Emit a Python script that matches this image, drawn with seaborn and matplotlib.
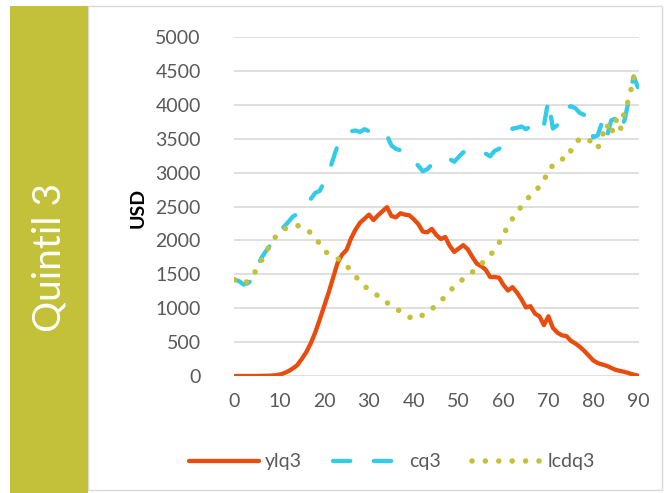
import numpy as np
import pandas as pd
import matplotlib
matplotlib.use("Agg")
import matplotlib.pyplot as plt
from matplotlib.patches import Rectangle
import seaborn as sns

# ages 0..90
ages = list(range(0, 91))

ylq3 = [0, 0, 0, 0, 0, 0, 2, 3, 5, 10,
        20, 40, 70, 110, 160, 250, 350, 480, 640, 830,
        1030, 1230, 1450, 1670, 1790, 1860, 2030, 2160, 2260, 2320,
        2380, 2300, 2370, 2430, 2490, 2360, 2340, 2400, 2380, 2370,
        2310, 2240, 2130, 2120, 2170, 2080, 2020, 2050, 1920, 1830,
        1880, 1930, 1870, 1760, 1660, 1620, 1570, 1460, 1460, 1450,
        1340, 1260, 1310, 1230, 1130, 1010, 1030, 920, 880, 750,
        880, 710, 640, 600, 590, 520, 480, 430, 370, 300,
        230, 190, 170, 150, 120, 90, 75, 60, 40, 20, 5]

cq3 = [1420, 1400, 1350, 1370, 1420, 1600, 1740, 1840, 1930, 2020,
       2120, 2200, 2270, 2350, 2390, 2410, 2500, 2610, 2700, 2730,
       2860, 3000, 3200, 3400, 3470, 3550, 3610, 3620, 3600, 3640,
       3610, 3600, 3620, 3590, 3550, 3400, 3350, 3330, 3280, 3230,
       3170, 3100, 3020, 3050, 3120, 3150, 3180, 3220, 3200, 3160,
       3230, 3300, 3290, 3270, 3260, 3300, 3280, 3240, 3320, 3350,
       3420, 3530, 3650, 3660, 3680, 3640, 3680, 3590, 3660, 3700,
       4070, 3650, 3700, 3880, 3950, 3980, 3950, 3880, 3850, 3780,
       3520, 3550, 3750, 3520, 3770, 3800, 3620, 3780, 4100, 4420, 4250]

lcdq3 = [1420, 1390, 1360, 1400, 1470, 1580, 1700, 1820, 1940, 2040,
         2110, 2160, 2200, 2220, 2220, 2200, 2170, 2110, 2040, 1950,
         1850, 1800, 1770, 1730, 1700, 1630, 1550, 1470, 1390, 1320,
         1280, 1240, 1180, 1110, 1080, 1050, 1000, 950, 910, 870,
         840, 860, 900, 950, 990, 1040, 1100, 1180, 1250, 1320,
         1380, 1430, 1480, 1530, 1590, 1650, 1710, 1780, 1860, 1960,
         2100, 2200, 2320, 2420, 2500, 2580, 2670, 2730, 2790, 2870,
         3060, 3100, 3120, 3180, 3320, 3320, 3450, 3490, 3510, 3500,
         3380, 3360, 3540, 3720, 3560, 3790, 3620, 3920, 4090, 4410, 4230]

series_names = ["ylq3", "cq3", "lcdq3"]
colors = {"ylq3": "#E84C0E", "cq3": "#33CBE8", "lcdq3": "#C3C13A"}
dashes = {"ylq3": "", "cq3": (4, 5.5), "lcdq3": (0.01, 2.4)}

df = pd.DataFrame({"age": ages, "ylq3": ylq3, "cq3": cq3, "lcdq3": lcdq3})
long_df = df.melt(id_vars="age", var_name="serie", value_name="usd")

sns.set_style("white")
plt.rcParams["font.family"] = ["Lato", "DejaVu Sans"]

fig = plt.figure(figsize=(6.72, 4.93), dpi=100)
ax = fig.add_axes([234 / 672, 1 - 376 / 493, (639 - 234) / 672, (376 - 37) / 493])

sns.lineplot(data=long_df, x="age", y="usd", hue="serie", style="serie",
             hue_order=series_names, style_order=series_names,
             palette=colors, dashes=dashes, linewidth=3.1, ax=ax)

lines = ax.get_lines()
for line in lines:
    line.set_dash_capstyle("round")
    line.set_solid_capstyle("round")
    line.set_solid_joinstyle("round")
lines[2].set_linewidth(4.0)

ax.set_xlim(-0.1, 90.2)
ax.set_ylim(0, 5000)
ax.set_xticks(range(0, 91, 10))
ax.set_yticks(range(0, 5001, 500))
ax.yaxis.grid(True, color="#D9D9D9", linewidth=1.2)
ax.set_axisbelow(True)
for s in ax.spines.values():
    s.set_visible(False)
ax.tick_params(axis="both", length=0, labelsize=14, labelcolor="#595959")
ax.tick_params(axis="x", pad=12)
ax.tick_params(axis="y", pad=24)
ax.set_xlabel("")
ax.set_ylabel("")

leg = ax.get_legend()
handles, labels = ax.get_legend_handles_labels()
leg.remove()
lg = fig.legend(handles, labels, loc="center", bbox_to_anchor=(392 / 672, 1 - 462 / 493),
                ncol=3, frameon=False, fontsize=14, handlelength=3.6,
                columnspacing=1.6, handletextpad=0.3)
for t in lg.get_texts():
    t.set_color("#595959")
for h in lg.get_lines():
    h.set_dash_capstyle("round")
    h.set_solid_capstyle("round")
lg.get_lines()[2].set_linewidth(4.0)

# y axis title
fig.text(138 / 672, 1 - 208 / 493, "USD", rotation=90, ha="center", va="center",
         fontsize=14, fontweight="bold", color="black")

# chart frame
fig.patches.append(Rectangle((88 / 672, 3 / 493), (662 - 88) / 672, (487 - 3) / 493,
                             transform=fig.transFigure, fill=False,
                             edgecolor="#D9D9D9", linewidth=1))

# left olive band
fig.patches.append(Rectangle((10 / 672, 0), (88 - 10) / 672, 1 - 6 / 493,
                             transform=fig.transFigure, facecolor="#C3C13A",
                             edgecolor="none"))
fig.text(49 / 672, 1 - 257 / 493, "Quintil 3", rotation=90, ha="center", va="center",
         fontsize=28, fontweight="normal", color="white")

fig.savefig("out.png", dpi=100)
